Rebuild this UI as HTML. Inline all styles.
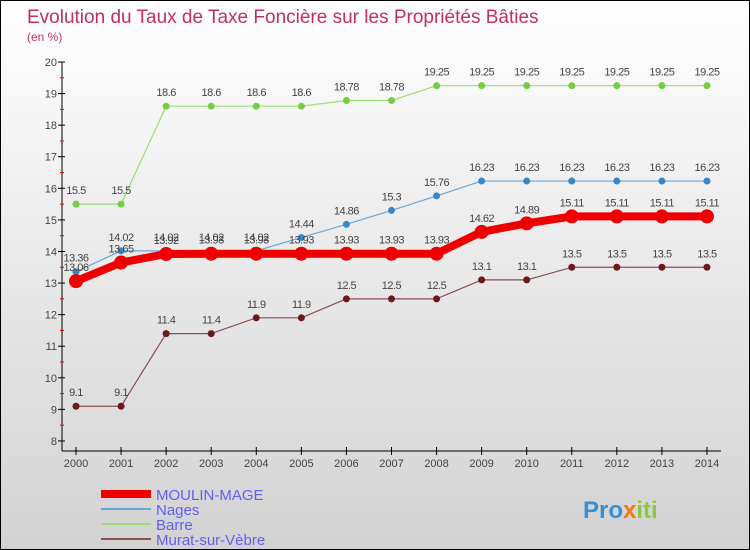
<!DOCTYPE html>
<html><head><meta charset="utf-8"><style>
body{margin:0}
#c{width:750px;height:550px;position:relative;overflow:hidden;box-sizing:border-box;border:1px solid #000;background:linear-gradient(#ffffff,#d2d2d2);font-family:"Liberation Sans",sans-serif}
svg text{font-family:"Liberation Sans",sans-serif}
</style></head><body>
<div id="c">
<svg id="s" width="750" height="550">
<text x="26" y="22" font-size="19" fill="#c0305a">Evolution du Taux de Taxe Foncière sur les Propriétés Bâties</text>
<text x="26" y="40" font-size="12" fill="#c0305a">(en %)</text>
<g id="axes"></g><g id="series"></g>
<g>
<rect x="100" y="489" width="50" height="8" fill="#ee0000"/>
<text x="155" y="499" font-size="15" fill="#6060f0">MOULIN-MAGE</text>
<rect x="100" y="507" width="50" height="2" fill="#6aa6d6"/>
<text x="155" y="514" font-size="15" fill="#6060f0">Nages</text>
<rect x="100" y="522" width="50" height="2" fill="#99dd77"/>
<text x="155" y="529" font-size="15" fill="#6060f0">Barre</text>
<rect x="100" y="537" width="50" height="2" fill="#8b5050"/>
<text x="155" y="544" font-size="15" fill="#6060f0">Murat-sur-Vèbre</text>
</g>
<text x="582" y="517" font-size="24" font-weight="bold" fill="#3a8fd0">Pro<tspan fill="#f07a10">x</tspan><tspan fill="#8cc83c">iti</tspan></text>
</svg></div>
<script>
const years=[2000,2001,2002,2003,2004,2005,2006,2007,2008,2009,2010,2011,2012,2013,2014];
const yTicks=[8,9,10,11,12,13,14,15,16,17,18,19,20];
const moulin=[13.06,13.65,13.92,13.93,13.93,13.93,13.93,13.93,13.93,14.62,14.89,15.11,15.11,15.11,15.11];
const nages=[13.36,14.02,14.02,14.02,14.02,14.44,14.86,15.3,15.76,16.23,16.23,16.23,16.23,16.23,16.23];
const barre=[15.5,15.5,18.6,18.6,18.6,18.6,18.78,18.78,19.25,19.25,19.25,19.25,19.25,19.25,19.25];
const murat=[9.1,9.1,11.4,11.4,11.9,11.9,12.5,12.5,12.5,13.1,13.1,13.5,13.5,13.5,13.5];
const NS="http://www.w3.org/2000/svg";
const xs=i=>75+i*45.07, ys=v=>61+(20-v)*31.58;
function mk(t,a,p){const e=document.createElementNS(NS,t);for(const k in a)e.setAttribute(k,a[k]);p.appendChild(e);return e;}
const ax=document.getElementById('axes'),se=document.getElementById('series');
let l=mk('line',{x1:61,y1:61,x2:61,y2:450,stroke:'#000'},ax);

l=mk('line',{x1:61,y1:450,x2:720,y2:450,stroke:'#000'},ax);

yTicks.forEach(v=>{mk('line',{x1:57,y1:ys(v),x2:64,y2:ys(v),stroke:'#000'},ax);
 if(v<20)mk('line',{x1:59,y1:ys(v+0.5),x2:63,y2:ys(v+0.5),stroke:'#e00'},ax);
 const t=mk('text',{x:56,y:ys(v)+4,'font-size':11,fill:'#444','text-anchor':'end'},ax);t.textContent=v;
 });
years.forEach((y,i)=>{mk('line',{x1:xs(i),y1:446,x2:xs(i),y2:454,stroke:'#000'},ax);
 const t=mk('text',{x:xs(i),y:466,'font-size':11,fill:'#444','text-anchor':'middle'},ax);t.textContent=y;
 });
function draw(d,name,col,w,r,dot){const g=mk('g',{},se);
 
 mk('polyline',{points:d.map((v,i)=>xs(i)+','+ys(v)).join(' '),fill:'none',stroke:col,'stroke-width':w,'stroke-linejoin':'round'},g);
 d.forEach((v,i)=>{const c=mk('circle',{cx:xs(i),cy:ys(v),r:r,fill:dot},g);
  
  const t=mk('text',{x:xs(i),y:ys(v)-10,'font-size':11,fill:'#444','text-anchor':'middle','letter-spacing':'-0.5'},g);t.textContent=v;
  });}
draw(murat,'murat','#8b5050',1.2,3.5,'#6a1a1a');
draw(barre,'barre','#99dd77',1.2,3.5,'#77cc44');
draw(nages,'nages','#6aa6d6',1.2,3.5,'#3a86c6');
draw(moulin,'moulin-mage','#ee0000',8,7,'#ee0000');
</script>
</body></html>
